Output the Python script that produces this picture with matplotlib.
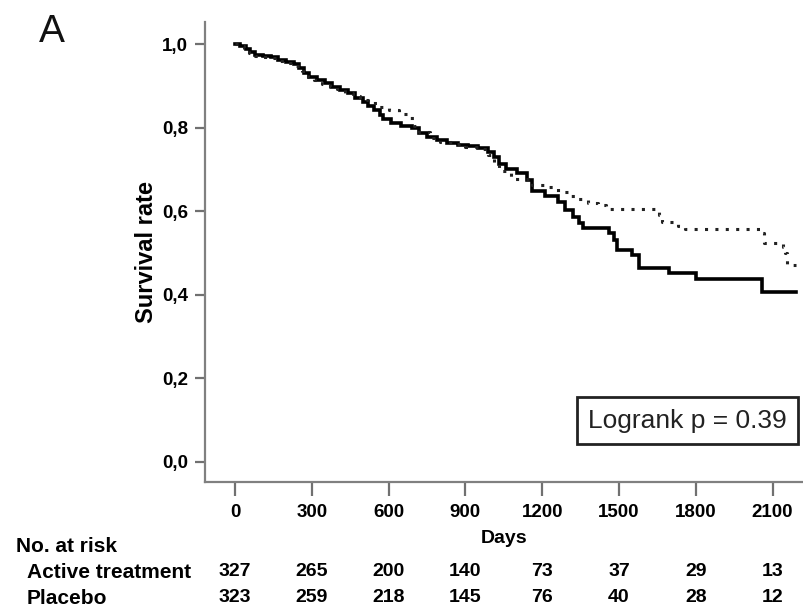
import matplotlib
matplotlib.use("Agg")
import matplotlib.pyplot as plt
from matplotlib.transforms import blended_transform_factory

# Kaplan-Meier step points (day, survival) for each arm
active_days = [0, 20, 45, 60, 80, 110, 140, 170, 200, 230, 250, 270, 290, 320,
               350, 380, 410, 440, 470, 500, 520, 545, 565, 580, 610, 650, 690,
               720, 750, 790, 830, 870, 910, 950, 990, 1010, 1030, 1060, 1100,
               1140, 1160, 1210, 1260, 1290, 1320, 1345, 1360, 1460, 1480, 1492,
               1550, 1580, 1695, 1802, 2057, 2190]
active_surv = [1.000, 0.995, 0.988, 0.980, 0.975, 0.972, 0.968, 0.962, 0.958,
               0.952, 0.942, 0.930, 0.921, 0.913, 0.906, 0.898, 0.891, 0.882,
               0.872, 0.862, 0.852, 0.842, 0.830, 0.820, 0.811, 0.804, 0.798,
               0.788, 0.778, 0.770, 0.764, 0.759, 0.755, 0.750, 0.742, 0.730,
               0.712, 0.700, 0.691, 0.674, 0.648, 0.635, 0.622, 0.602, 0.585,
               0.572, 0.559, 0.547, 0.530, 0.507, 0.495, 0.463, 0.451, 0.437,
               0.406, 0.406]

placebo_days = [0, 15, 35, 55, 80, 110, 140, 165, 200, 230, 260, 285, 310, 340,
                370, 400, 430, 460, 490, 520, 560, 600, 640, 680, 700, 720, 760,
                800, 850, 900, 950, 990, 1010, 1030, 1080, 1160, 1220, 1260,
                1300, 1340, 1380, 1420, 1450, 1655, 1668, 1730, 1760, 2060,
                2065, 2140, 2150, 2158, 2190]
placebo_surv = [1.000, 0.996, 0.990, 0.978, 0.972, 0.970, 0.966, 0.960, 0.955,
                0.948, 0.935, 0.922, 0.915, 0.905, 0.898, 0.892, 0.884, 0.875,
                0.866, 0.858, 0.850, 0.842, 0.833, 0.823, 0.805, 0.790, 0.776,
                0.766, 0.760, 0.754, 0.748, 0.735, 0.715, 0.695, 0.676, 0.662,
                0.657, 0.645, 0.636, 0.628, 0.620, 0.614, 0.605, 0.590, 0.574,
                0.565, 0.557, 0.547, 0.523, 0.514, 0.499, 0.471, 0.471]

x_ticks = [0, 300, 600, 900, 1200, 1500, 1800, 2100]
y_ticks = [0.0, 0.2, 0.4, 0.6, 0.8, 1.0]
y_tick_labels = ["0,0", "0,2", "0,4", "0,6", "0,8", "1,0"]

risk_groups = ["Active treatment", "Placebo"]
risk_active = [327, 265, 200, 140, 73, 37, 29, 13]
risk_placebo = [323, 259, 218, 145, 76, 40, 28, 12]

FONT = "Liberation Sans"

W, H = 804, 613
fig = plt.figure(figsize=(W / 100, H / 100), dpi=100)
ax = fig.add_axes([205 / W, 1 - 482 / H, (803 - 205) / W, (482 - 22) / H])

ax.step(active_days, active_surv, where="post", color="black", lw=2.6,
        solid_joinstyle="miter")
ax.step(placebo_days, placebo_surv, where="post", color="#222222", lw=2.2,
        linestyle=(0, (1.0, 2.4)), dash_capstyle="butt")

ax.set_xlim(-117, 2219)
ax.set_ylim(-0.049, 1.053)

for side in ("top", "right"):
    ax.spines[side].set_visible(False)
for side in ("left", "bottom"):
    ax.spines[side].set_color("#808080")
    ax.spines[side].set_linewidth(1.6)

ax.set_xticks(x_ticks)
ax.set_xticklabels([str(t) for t in x_ticks])
ax.set_yticks(y_ticks)
ax.set_yticklabels(y_tick_labels)
ax.tick_params(axis="x", length=10, width=1.6, color="#707070", pad=6)
ax.tick_params(axis="y", length=7, width=1.6, color="#707070", pad=5)
for lab in ax.get_xticklabels() + ax.get_yticklabels():
    lab.set_fontfamily(FONT)
    lab.set_fontweight("bold")
    lab.set_fontsize(13.5)

ax.set_ylabel("Survival rate", fontfamily=FONT, fontweight="bold",
              fontsize=17, labelpad=3)
ax.set_xlabel("Days", fontfamily=FONT, fontweight="bold",
              fontsize=14, labelpad=6)

# Log-rank annotation box
ax.text(0.807, 0.133, "Logrank p = 0.39", transform=ax.transAxes,
        ha="center", va="center", fontfamily=FONT, fontsize=19,
        color="#222222",
        bbox=dict(boxstyle="square,pad=0.43", facecolor="white",
                  edgecolor="#222222", linewidth=2.0))

# Panel letter
fig.text(39 / W, 1 - 32 / H, "A", fontfamily=FONT, fontsize=28,
         ha="left", va="center", color="#111111")

# Numbers-at-risk table
tr = blended_transform_factory(ax.transData, fig.transFigure)
fig.text(16 / W, 1 - 547 / H, "No. at risk", fontfamily=FONT,
         fontweight="bold", fontsize=15, ha="left", va="center")
row_y = [1 - 572 / H, 1 - 598 / H]
for name, counts, yy in zip(risk_groups, [risk_active, risk_placebo], row_y):
    fig.text(27 / W, yy, name, fontfamily=FONT, fontweight="bold",
             fontsize=15, ha="left", va="center")
    for t, n in zip(x_ticks, counts):
        fig.text(t, yy, str(n), transform=tr, fontfamily=FONT,
                 fontweight="bold", fontsize=14, ha="center", va="center")

fig.savefig("out.png", dpi=100)
